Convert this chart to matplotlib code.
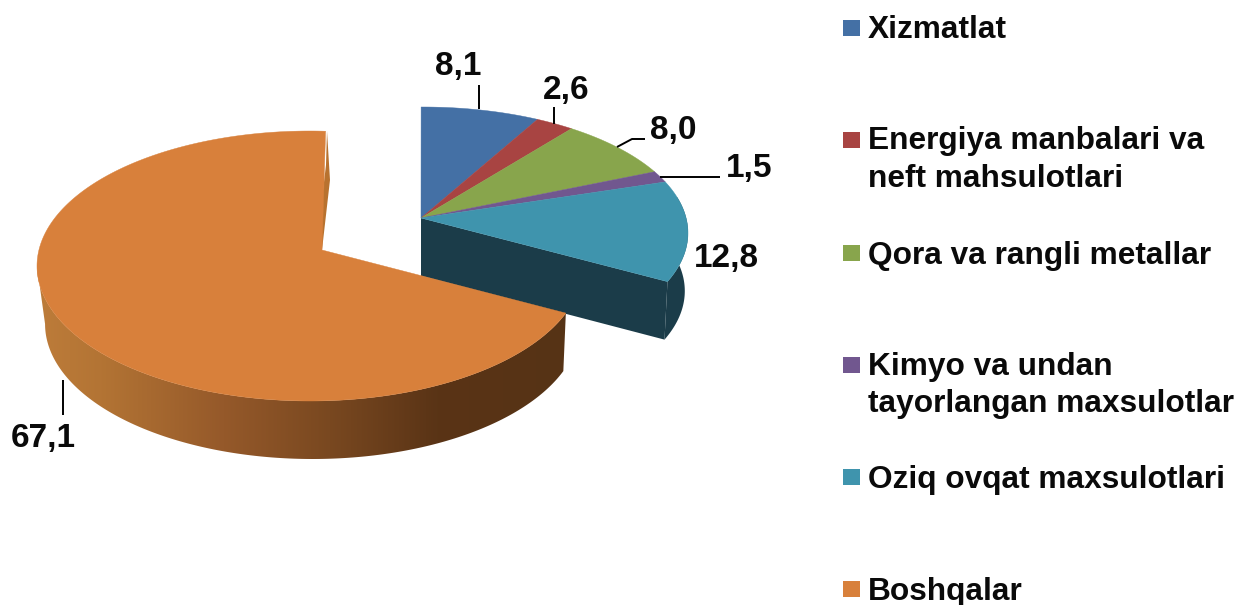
import numpy as np
import matplotlib
matplotlib.use("Agg")
import matplotlib.pyplot as plt
from matplotlib.patches import Polygon, Rectangle
from matplotlib.colors import LinearSegmentedColormap

plt.rcParams['font.family'] = ['Liberation Sans', 'DejaVu Sans']

categories = ["Xizmatlat", "Energiya manbalari va\nneft mahsulotlari", "Qora va rangli metallar",
              "Kimyo va undan\ntayorlangan maxsulotlar", "Oziq ovqat maxsulotlari", "Boshqalar"]
values = [8.1, 2.6, 8.0, 1.5, 12.8, 67.1]
value_labels = ["8,1", "2,6", "8,0", "1,5", "12,8", "67,1"]
colors = ["#4470a5", "#a84442", "#88a54c", "#71578f", "#3f94ad", "#d8803b"]

DEPTH = 58


def project(theta, apex, center, rx, ry, rot=0.0):
    # kruqni perspektivada ellipsga otkazish (theta: 12 dan soat yonalishida, gradus)
    t = np.radians(np.asarray(theta) + rot)
    u, v = np.sin(t), np.cos(t)
    ex = (apex[0] - center[0]) / rx
    ey = (center[1] - apex[1]) / ry
    r = np.hypot(ex, ey)
    dx, dy = ex / r, ey / r
    a = u * dx + v * dy
    b = -u * dy + v * dx
    den = 1 + r * a
    a2 = (a + r) / den
    b2 = b * np.sqrt(1 - r ** 2) / den
    x = a2 * dx - b2 * dy
    y = a2 * dy + b2 * dx
    return center[0] + rx * x, center[1] - ry * y


def lower(x, y, vx, scale):
    return vx + (np.asarray(x) - vx) * scale, np.asarray(y) + DEPTH


fig = plt.figure(figsize=(12.37, 6.05), dpi=100)
ax = fig.add_axes([0, 0, 1, 1])

edges = np.cumsum([0] + values) * 360 / sum(values)

# kichik bolaklar guruhi
small = dict(apex=(421, 218), center=(423, 233), rx=265, ry=126)
small_end = edges[5]
side = np.linspace(80, small_end, 60)
sx, sy = project(side, **small)
bx, by = lower(sx, sy, 421, 0.988)
wall = np.column_stack([np.r_[sx, bx[::-1]], np.r_[sy, by[::-1]]])
ax.add_patch(Polygon(wall, fc="#1b3c49", ec="none", zorder=2))
ax0, ay0 = small["apex"]
lx, ly = lower([ax0, sx[-1]], [ay0, sy[-1]], 421, 0.988)
ax.add_patch(Polygon([(ax0, ay0), (sx[-1], sy[-1]), (lx[1], ly[1]), (lx[0], ly[0])],
                     fc="#1b3c49", ec="none", zorder=2))
for i in range(5):
    th = np.linspace(edges[i], edges[i + 1], 50)
    x, y = project(th, **small)
    ax.add_patch(Polygon(np.column_stack([np.r_[ax0, x], np.r_[ay0, y]]),
                         fc=colors[i], ec=colors[i], lw=0.3, zorder=3))

# katta bolak
big = dict(apex=(322, 250), center=(310, 266), rx=273, ry=135, rot=1.0)
th = np.linspace(edges[5] - 2, 360, 300)
x, y = project(th, **big)
k = np.argmin(x)
fx, fy = x[:k + 1], y[:k + 1]
lx, ly = lower(fx, fy, 440, 0.98)
wall = Polygon(np.column_stack([np.r_[fx, lx[::-1]], np.r_[fy, ly[::-1]]]), fc="none", ec="none")
ax.add_patch(wall)
side_cmap = LinearSegmentedColormap.from_list("side", [
    (0.0, "#bd7c3a"), (0.12, "#b37434"), (0.35, "#95592a"), (0.55, "#794820"),
    (0.75, "#5a3416"), (1.0, "#563315")])
im = ax.imshow(np.linspace(0, 1, 256)[None, :], cmap=side_cmap, aspect="auto",
               extent=[37, 570, 470, 260], zorder=4, interpolation="bilinear")
im.set_clip_path(wall)

# ichki devor (yuqori chapda)
ax.add_patch(Polygon([(327, 131), (330, 180), (322, 250), (316, 250), (326, 165)],
                     fc="#b8722f", ec="none", zorder=4))
bx0, by0 = big["apex"]
ax.add_patch(Polygon(np.column_stack([np.r_[bx0, x], np.r_[by0, y]]),
                     fc=colors[5], ec=colors[5], lw=0.3, zorder=5))

# yetakchi chiziqlar
leaders = [([479, 479], [85, 109]), ([554, 554], [107, 124]),
           ([617, 632, 645], [147, 139, 139]), ([660, 720], [177, 177]),
           ([63, 63], [380, 415])]
for lxs, lys in leaders:
    ax.plot(lxs, lys, color="black", lw=1.4, zorder=6, solid_capstyle="butt")

label_pos = [(458, 66), (566, 90), (673, 131), (749, 169), (726, 258), (43, 438)]
for (tx, ty), s in zip(label_pos, value_labels):
    ax.text(tx, ty, s, fontsize=24, fontweight="bold", ha="center", va="center",
            color="#0a0a0a", zorder=7)

# legenda
marker_y = [28, 140, 253, 365, 477, 589]
baselines = [[38], [149, 187], [264], [375, 412], [488], [600]]
for my, bl, name, c in zip(marker_y, baselines, categories, colors):
    ax.add_patch(Rectangle((843, my - 8), 17, 16, fc=c, ec="none", zorder=6))
    for yy, line in zip(bl, name.split("\n")):
        ax.text(868, yy, line, fontsize=22.8, fontweight="bold", ha="left",
                va="baseline", color="#0a0a0a", zorder=7)

ax.set_xlim(0, 1237)
ax.set_ylim(605, 0)
ax.axis("off")
fig.savefig("out.png", dpi=100)
